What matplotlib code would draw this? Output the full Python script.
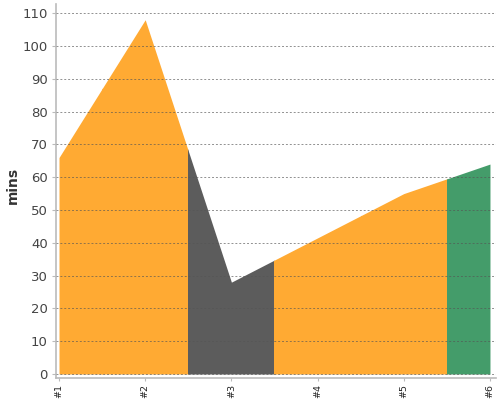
import matplotlib
matplotlib.use("Agg")
import matplotlib.pyplot as plt
from matplotlib.patches import Rectangle

# data
labels = ["#1", "#2", "#3", "#4", "#5", "#6"]
mins = [66, 108, 28, 41.5, 55, 64]
point_colors = ["#FFAA33", "#FFAA33", "#5C5C5C", "#FFAA33", "#FFAA33", "#449C6A"]

x = list(range(1, len(labels) + 1))

fig = plt.figure(figsize=(5, 4), dpi=100)
ax = fig.add_axes([0.112, 0.055, 0.88, 0.935])

# each point owns the band from half a step before to half a step after
for i, c in enumerate(point_colors):
    lo = max(x[i] - 0.5, x[0])
    hi = min(x[i] + 0.5, x[-1])
    poly = ax.fill_between(x, mins, 0, color=c, linewidth=0, zorder=1)
    clip = Rectangle((lo, -5), hi - lo, 200, transform=ax.transData)
    poly.set_clip_path(clip)

ax.set_xlim(0.965, 6.07)
ax.set_ylim(-1.22, 112.8)
ax.set_yticks(range(0, 111, 10))
ax.set_xticks(x)
ax.set_xticklabels(labels, rotation=90, fontsize=6.8, color="#222222")

ax.grid(axis="y", linestyle=(0, (2, 2)), color="#555555", linewidth=0.7, alpha=0.65, zorder=3)
ax.set_axisbelow(False)

for s in ["top", "right"]:
    ax.spines[s].set_visible(False)
for s in ["left", "bottom"]:
    ax.spines[s].set_color("#BBBBBB")
    ax.spines[s].set_linewidth(1.2)

ax.tick_params(axis="y", colors="#BBBBBB", labelcolor="#444444", labelsize=9.5, length=3, pad=3)
ax.tick_params(axis="x", colors="#BBBBBB", labelcolor="#222222", length=2.5, pad=1.5)

ax.set_ylabel("mins", fontsize=10, fontweight="bold", color="#333333")
ax.yaxis.set_label_coords(-0.082, 0.516)

fig.savefig("out.png", dpi=100)
